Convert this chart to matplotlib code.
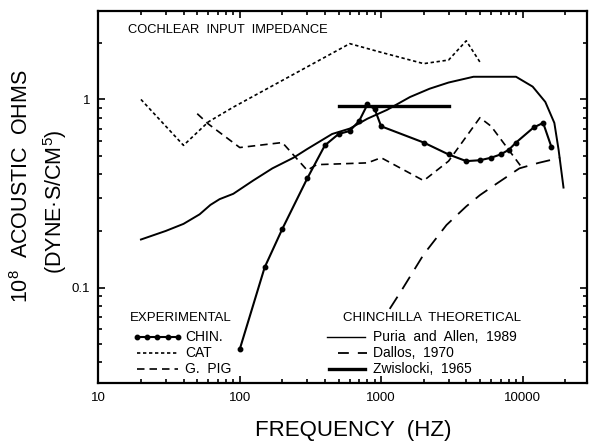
import matplotlib
matplotlib.use("Agg")
import matplotlib.pyplot as plt
from matplotlib.ticker import LogLocator, FixedLocator, FixedFormatter, NullFormatter

plt.rcParams['font.family'] = ['Liberation Sans', 'DejaVu Sans']
plt.rcParams['mathtext.default'] = 'regular'

# ---- data ----
chin_f = [100, 150, 200, 300, 400, 500, 600, 700, 800, 900, 1000, 2000, 3000, 4000,
          5000, 6000, 7000, 8000, 9000, 12000, 14000, 16000]
chin_v = [0.047, 0.128, 0.205, 0.38, 0.57, 0.655, 0.68, 0.77, 0.94, 0.89, 0.72, 0.59,
          0.51, 0.47, 0.475, 0.49, 0.51, 0.54, 0.59, 0.71, 0.75, 0.56]

cat_f = [20, 40, 60, 90, 600, 1000, 2000, 3000, 4000, 5000]
cat_v = [1.0, 0.57, 0.76, 0.91, 1.98, 1.78, 1.55, 1.62, 2.05, 1.58]

gpig_f = [50, 60, 100, 200, 300, 350, 800, 1000, 2000, 3000, 5000, 6000, 10000]
gpig_v = [0.84, 0.74, 0.555, 0.59, 0.42, 0.45, 0.46, 0.49, 0.37, 0.47, 0.80, 0.72, 0.43]

puria_f = [20, 30, 40, 52, 62, 72, 90, 124, 170, 240, 300, 450, 600, 800, 1100, 1600,
           2200, 3000, 4500, 9000, 11800, 14500, 16800, 18000, 19500]
puria_v = [0.18, 0.20, 0.218, 0.245, 0.275, 0.295, 0.315, 0.37, 0.43, 0.49, 0.545, 0.655,
           0.70, 0.79, 0.88, 1.03, 1.14, 1.23, 1.32, 1.32, 1.17, 0.97, 0.75, 0.54, 0.34]

dallos_f = [1150, 1400, 2000, 2900, 4000, 5000, 6500, 9500, 13000, 18500]
dallos_v = [0.077, 0.097, 0.15, 0.215, 0.27, 0.31, 0.355, 0.43, 0.46, 0.49]

zwis_f = [500, 3000]
zwis_v = [0.92, 0.92]

x_ticks = [10, 100, 1000, 10000]
x_tick_labels = ["10", "100", "1000", "10000"]
y_ticks = [0.1, 1]
y_tick_labels = ["0.1", "1"]

# ---- figure ----
fig = plt.figure(figsize=(6.0, 4.43), dpi=100)
ax = fig.add_axes([0.164, 0.135, 0.814, 0.840])

ax.plot(cat_f, cat_v, color='black', lw=1.2, ls=(0, (2, 1.6)))
ax.plot(gpig_f, gpig_v, color='black', lw=1.2, ls=(0, (4.5, 3)))
ax.plot(dallos_f, dallos_v, color='black', lw=1.3, ls=(0, (8, 5)))
ax.plot(puria_f, puria_v, color='black', lw=1.4)
ax.plot(zwis_f, zwis_v, color='black', lw=2.4)
ax.plot(chin_f, chin_v, color='black', lw=1.5, marker='o', ms=3.2)

ax.set_xscale('log')
ax.set_yscale('log')
ax.set_xlim(10, 28500)
ax.set_ylim(0.031, 2.95)

ax.xaxis.set_major_locator(FixedLocator(x_ticks))
ax.xaxis.set_major_formatter(FixedFormatter(x_tick_labels))
ax.xaxis.set_minor_locator(LogLocator(base=10, subs=range(2, 10)))
ax.xaxis.set_minor_formatter(NullFormatter())
ax.yaxis.set_major_locator(FixedLocator(y_ticks))
ax.yaxis.set_major_formatter(FixedFormatter(y_tick_labels))
ax.yaxis.set_minor_locator(LogLocator(base=10, subs=range(2, 10)))
ax.yaxis.set_minor_formatter(NullFormatter())

ax.tick_params(which='both', direction='in', top=True, right=True, width=1.2)
ax.tick_params(which='major', length=5, labelsize=9.5, pad=6)
ax.tick_params(which='minor', length=3)
for s in ax.spines.values():
    s.set_linewidth(1.6)

# title inside plot
ax.text(0.060, 0.949, "COCHLEAR  INPUT  IMPEDANCE", transform=ax.transAxes,
        fontsize=9.3, ha='left', va='center')

# legend drawn manually
T = ax.transAxes
ax.text(0.0645, 0.175, "EXPERIMENTAL", transform=T, fontsize=9.5, va='center')
ax.plot([0.079, 0.163], [0.124, 0.124], transform=T, color='black', lw=1.5)
ax.plot([0.079 + i * 0.021 for i in range(5)], [0.124] * 5, transform=T, color='black',
        lw=0, marker='o', ms=3.2)
ax.text(0.177, 0.124, "CHIN.", transform=T, fontsize=10, va='center')
ax.plot([0.079, 0.163], [0.081, 0.081], transform=T, color='black', lw=1.2, ls=(0, (2, 1.6)))
ax.text(0.177, 0.081, "CAT", transform=T, fontsize=10, va='center')
ax.plot([0.079, 0.163], [0.038, 0.038], transform=T, color='black', lw=1.2, ls=(0, (4.5, 3)))
ax.text(0.177, 0.038, "G.  PIG", transform=T, fontsize=10, va='center')

ax.text(0.5005, 0.175, "CHINCHILLA  THEORETICAL", transform=T, fontsize=9.5, va='center')
ax.plot([0.468, 0.545], [0.124, 0.124], transform=T, color='black', lw=1.0)
ax.text(0.562, 0.124, "Puria  and  Allen,  1989", transform=T, fontsize=10, va='center')
ax.plot([0.49, 0.55], [0.081, 0.081], transform=T, color='black', lw=1.3, ls=(0, (6, 5)))
ax.text(0.562, 0.081, "Dallos,  1970", transform=T, fontsize=10, va='center')
ax.plot([0.473, 0.545], [0.038, 0.038], transform=T, color='black', lw=2.4)
ax.text(0.562, 0.038, "Zwislocki,  1965", transform=T, fontsize=10, va='center')

# axis labels
fig.text(0.589, 0.029, "FREQUENCY  (HZ)", fontsize=16, ha='center', va='center')
fig.text(0.036, 0.58, "$10^8$  ACOUSTIC  OHMS", fontsize=15.5, rotation=90,
         ha='center', va='center')
fig.text(0.092, 0.544, "(DYNE\u00b7S/CM$^5$)", fontsize=15.5, rotation=90,
         ha='center', va='center')

fig.savefig("out.png", dpi=100)
